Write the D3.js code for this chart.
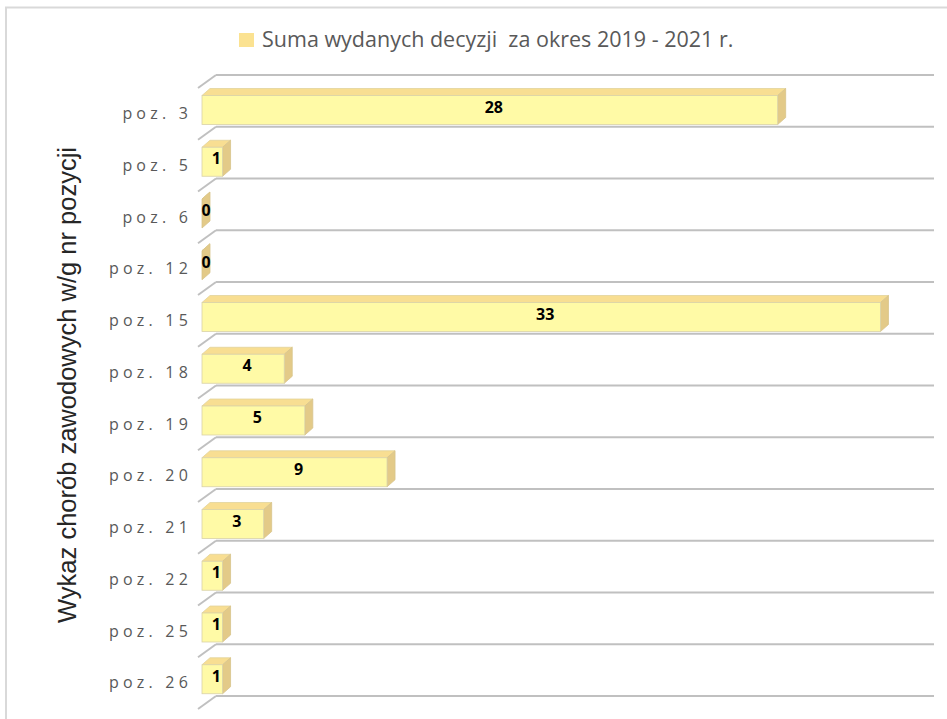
<!DOCTYPE html>
<html>
<head>
<meta charset="utf-8">
<script src="https://cdn.jsdelivr.net/npm/d3@7"></script>
<style>
  body { margin: 0; background: #fff; }
  svg text { white-space: pre; }
</style>
</head>
<body>
<div id="chart"></div>
<script>
const categories = ["poz. 3", "poz. 5", "poz. 6", "poz. 12", "poz. 15", "poz. 18",
                    "poz. 19", "poz. 20", "poz. 21", "poz. 22", "poz. 25", "poz. 26"];
const values = [28, 1, 0, 0, 33, 4, 5, 9, 3, 1, 1, 1];
const seriesName = "Suma wydanych decyzji  za okres 2019 - 2021 r.";
const axisTitle = "Wykaz chorób zawodowych w/g nr pozycji";

const width = 947, height = 719;
const depthX = 8, depthY = 7;     // bar depth (3D look)
const wallX = 18, wallY = 13;     // side wall offset

const svg = d3.select("#chart").append("svg")
    .attr("width", width)
    .attr("height", height);

// chart border (only top/left visible)
svg.append("rect")
    .attr("x", 6).attr("y", 7.5)
    .attr("width", 1000).attr("height", 800)
    .attr("fill", "none")
    .attr("stroke", "#d9d9d9")
    .attr("stroke-width", 2);

const y = d3.scaleBand().domain(categories).range([75, 696]);
const x = d3.scaleLinear().domain([0, 35]).range([202, 921.6]);

// gridlines on the back wall + wall edges
const lines = categories.map(c => y(c)).concat([y.range()[1]]);
svg.append("g").selectAll("line.grid")
    .data(lines).enter().append("line")
    .attr("class", "grid")
    .attr("x1", x(0) + 14).attr("x2", 934)
    .attr("y1", d => d).attr("y2", d => d)
    .attr("stroke", "#c0c0c0").attr("stroke-width", 2);

svg.append("g").selectAll("line.wall")
    .data(lines).enter().append("line")
    .attr("class", "wall")
    .attr("x1", x(0) - 4).attr("y1", d => d + wallY)
    .attr("x2", x(0) - 4 + wallX).attr("y2", d => d)
    .attr("stroke", "#c0c0c0").attr("stroke-width", 2);

// bars
const bars = svg.append("g").selectAll("g.bar")
    .data(categories.map((c, i) => ({ cat: c, val: values[i] })))
    .enter().append("g").attr("class", "bar");

const geo = d => {
    const b = y(d.cat);
    return { x0: x(0), x1: x(d.val), top: b + 20.5, bot: b + 49.5 };
};

bars.append("polygon")
    .attr("points", d => {
        const g = geo(d);
        return [[g.x0, g.top], [g.x0 + depthX, g.top - depthY],
                [g.x1 + depthX, g.top - depthY], [g.x1, g.top]].join(" ");
    })
    .attr("fill", "#f8de92").attr("stroke", "#e2d39c").attr("stroke-width", 0.8);

bars.append("polygon")
    .attr("points", d => {
        const g = geo(d);
        return [[g.x1, g.top], [g.x1 + depthX, g.top - depthY],
                [g.x1 + depthX, g.bot - depthY], [g.x1, g.bot]].join(" ");
    })
    .attr("fill", "#e3ca88").attr("stroke", "#d8c48c").attr("stroke-width", 0.8);

bars.filter(d => d.val > 0).append("rect")
    .attr("x", d => geo(d).x0)
    .attr("y", d => geo(d).top)
    .attr("width", d => geo(d).x1 - geo(d).x0)
    .attr("height", d => geo(d).bot - geo(d).top)
    .attr("fill", "#fffaa6").attr("stroke", "#d9d2a8").attr("stroke-width", 0.8);

bars.append("text")
    .attr("x", d => (geo(d).x0 + geo(d).x1 + depthX) / 2)
    .attr("y", d => (geo(d).top - depthY + geo(d).bot) / 2 + 6)
    .attr("text-anchor", "middle")
    .attr("font-family", "'Open Sans', sans-serif")
    .attr("font-weight", "bold")
    .attr("font-size", 16)
    .attr("fill", "#000")
    .text(d => d.val);

// category labels
svg.append("g").selectAll("text.cat")
    .data(categories).enter().append("text")
    .attr("class", "cat")
    .attr("x", 192)
    .attr("y", d => y(d) + 44)
    .attr("text-anchor", "end")
    .attr("font-family", "'Open Sans', sans-serif")
    .attr("font-size", 16)
    .attr("letter-spacing", 4.2)
    .attr("fill", "#595959")
    .text(d => d);

// axis title
svg.append("text")
    .attr("transform", "translate(76,385) rotate(-90)")
    .attr("text-anchor", "middle")
    .attr("font-family", "'Liberation Sans', Arial, sans-serif")
    .attr("font-size", 25.5)
    .attr("fill", "#262626")
    .text(axisTitle);

// legend
const legend = svg.append("g");
legend.append("rect")
    .attr("x", 239).attr("y", 33).attr("width", 15).attr("height", 14)
    .attr("fill", "#fbe291");
legend.append("text")
    .attr("x", 262).attr("y", 47)
    .attr("font-family", "'Open Sans', sans-serif")
    .attr("font-size", 21.5)
    .attr("fill", "#595959")
    .text(seriesName);
</script>
</body>
</html>
